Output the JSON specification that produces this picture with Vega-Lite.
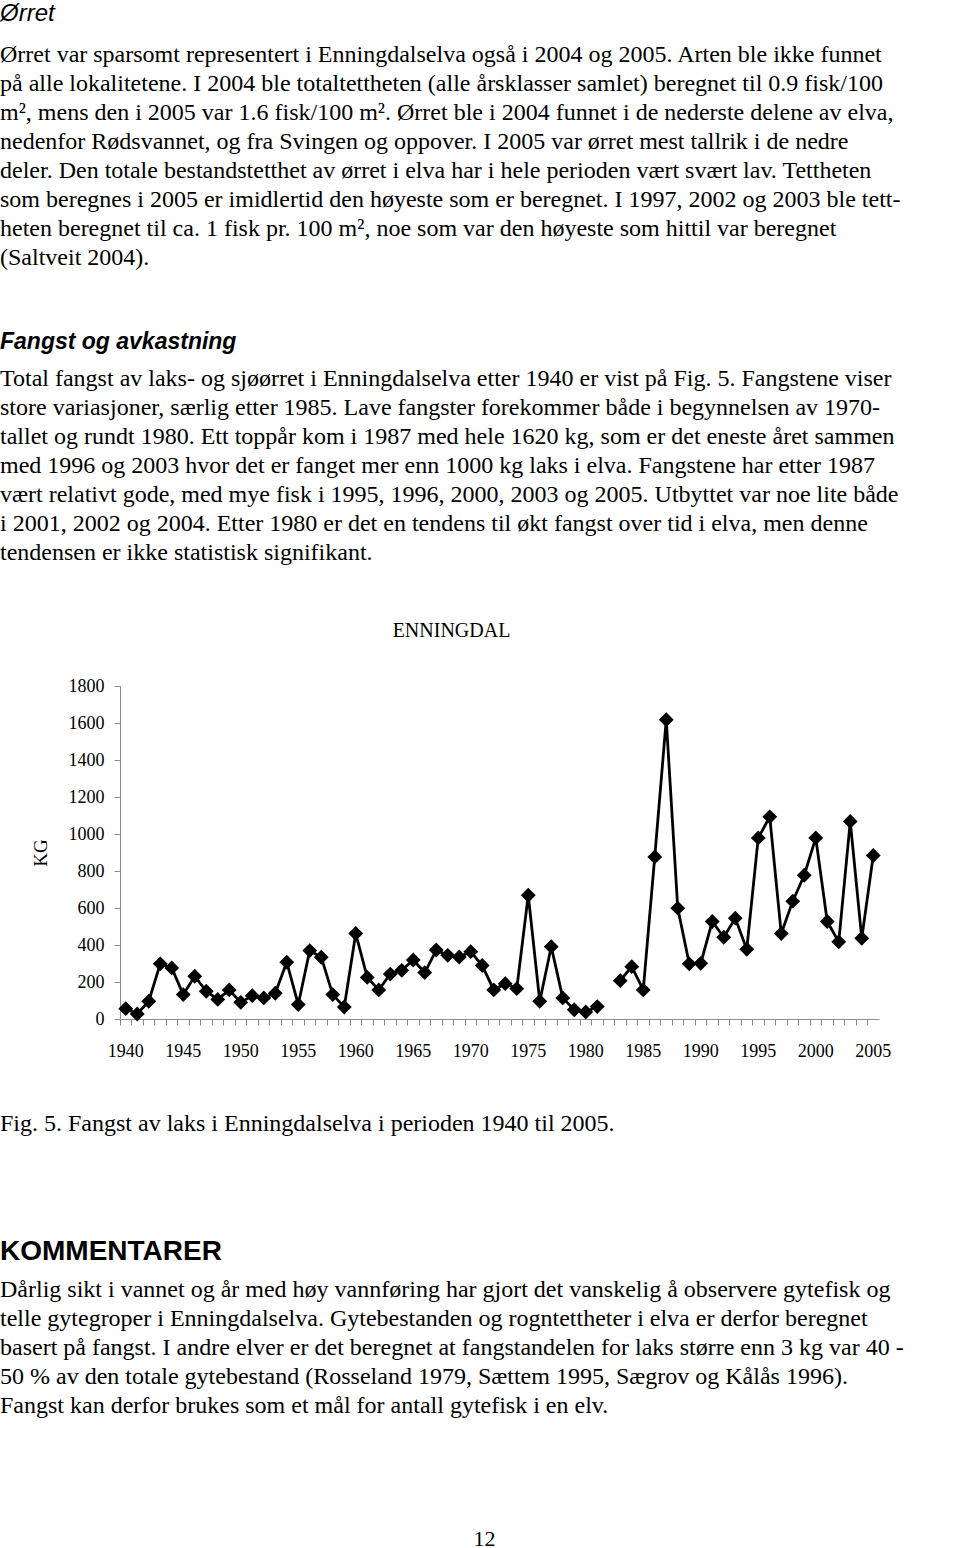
{
  "$schema": "https://vega.github.io/schema/vega-lite/v6.json",
  "padding": {"top": 2, "left": 0, "right": 0, "bottom": 0},
  "background": "white",
  "spacing": 0,
  "config": {"view": {"stroke": null}, "font": "Liberation Serif"},
  "vconcat": [
    {
      "width": 759, "height": 60,
      "data": {"values": []},
      "mark": "point",
      "title": {
        "text": "Ørret",
        "subtitle": [
          "Ørret var sparsomt representert i Enningdalselva også i 2004 og 2005. Arten ble ikke funnet",
          "på alle lokalitetene. I 2004 ble totaltettheten (alle årsklasser samlet) beregnet til 0.9 fisk/100",
          "m², mens den i 2005 var 1.6 fisk/100 m². Ørret ble i 2004 funnet i de nederste delene av elva,",
          "nedenfor Rødsvannet, og fra Svingen og oppover. I 2005 var ørret mest tallrik i de nedre",
          "deler. Den totale bestandstetthet av ørret i elva har i hele perioden vært svært lav. Tettheten",
          "som beregnes i 2005 er imidlertid den høyeste som er beregnet. I 1997, 2002 og 2003 ble tett-",
          "heten beregnet til ca. 1 fisk pr. 100 m², noe som var den høyeste som hittil var beregnet",
          "(Saltveit 2004)."
        ],
        "orient": "top", "anchor": "start", "frame": "group", "dx": -120, "offset": 0,
        "baseline": "top",
        "font": "Liberation Sans", "fontSize": 24, "fontStyle": "italic", "fontWeight": "normal", "color": "black",
        "subtitleFont": "Liberation Serif", "subtitleFontSize": 24, "subtitleLineHeight": 29,
        "subtitleColor": "black", "subtitlePadding": 17
      }
    },
    {
      "width": 759, "height": 56,
      "data": {"values": []},
      "mark": "point",
      "title": {
        "text": "Fangst og avkastning",
        "subtitle": [
          "Total fangst av laks- og sjøørret i Enningdalselva etter 1940 er vist på Fig. 5. Fangstene viser",
          "store variasjoner, særlig etter 1985. Lave fangster forekommer både i begynnelsen av 1970-",
          "tallet og rundt 1980. Ett toppår kom i 1987 med hele 1620 kg, som er det eneste året sammen",
          "med 1996 og 2003 hvor det er fanget mer enn 1000 kg laks i elva. Fangstene har etter 1987",
          "vært relativt gode, med mye fisk i 1995, 1996, 2000, 2003 og 2005. Utbyttet var noe lite både",
          "i 2001, 2002 og 2004.  Etter 1980 er det en tendens til økt fangst over tid i elva, men denne",
          "tendensen er ikke statistisk signifikant."
        ],
        "orient": "top", "anchor": "start", "frame": "group", "dx": -120, "offset": 0,
        "baseline": "top",
        "font": "Liberation Sans", "fontSize": 23, "fontStyle": "italic", "fontWeight": "bold", "color": "black",
        "subtitleFont": "Liberation Serif", "subtitleFontSize": 24, "subtitleLineHeight": 29,
        "subtitleColor": "black", "subtitlePadding": 13.5
      }
    },
    {
      "width": 759, "height": 333,
      "title": {
        "text": "ENNINGDAL", "font": "Liberation Serif", "fontSize": 20, "fontWeight": "normal",
        "color": "black", "anchor": "middle", "frame": "group", "dx": -48, "offset": 36, "baseline": "top"
      },
      "data": {"values": [
        {"year": 1940, "kg": 56}, {"year": 1941, "kg": 27}, {"year": 1942, "kg": 96}, {"year": 1943, "kg": 298},
        {"year": 1944, "kg": 276}, {"year": 1945, "kg": 132}, {"year": 1946, "kg": 231}, {"year": 1947, "kg": 150},
        {"year": 1948, "kg": 106}, {"year": 1949, "kg": 157}, {"year": 1950, "kg": 90}, {"year": 1951, "kg": 126},
        {"year": 1952, "kg": 114}, {"year": 1953, "kg": 139}, {"year": 1954, "kg": 307}, {"year": 1955, "kg": 78},
        {"year": 1956, "kg": 370}, {"year": 1957, "kg": 334}, {"year": 1958, "kg": 132}, {"year": 1959, "kg": 65},
        {"year": 1960, "kg": 462}, {"year": 1961, "kg": 225}, {"year": 1962, "kg": 157}, {"year": 1963, "kg": 243},
        {"year": 1964, "kg": 263}, {"year": 1965, "kg": 319}, {"year": 1966, "kg": 251}, {"year": 1967, "kg": 373},
        {"year": 1968, "kg": 344}, {"year": 1969, "kg": 335}, {"year": 1970, "kg": 364}, {"year": 1971, "kg": 289},
        {"year": 1972, "kg": 157}, {"year": 1973, "kg": 191}, {"year": 1974, "kg": 164}, {"year": 1975, "kg": 669},
        {"year": 1976, "kg": 96}, {"year": 1977, "kg": 391}, {"year": 1978, "kg": 114}, {"year": 1979, "kg": 50},
        {"year": 1980, "kg": 38}, {"year": 1981, "kg": 67}, {"year": 1982, "kg": null}, {"year": 1983, "kg": 207},
        {"year": 1984, "kg": 283}, {"year": 1985, "kg": 157}, {"year": 1986, "kg": 876}, {"year": 1987, "kg": 1618},
        {"year": 1988, "kg": 599}, {"year": 1989, "kg": 298}, {"year": 1990, "kg": 301}, {"year": 1991, "kg": 527},
        {"year": 1992, "kg": 442}, {"year": 1993, "kg": 545}, {"year": 1994, "kg": 377}, {"year": 1995, "kg": 979},
        {"year": 1996, "kg": 1093}, {"year": 1997, "kg": 462}, {"year": 1998, "kg": 637}, {"year": 1999, "kg": 777},
        {"year": 2000, "kg": 979}, {"year": 2001, "kg": 527}, {"year": 2002, "kg": 417}, {"year": 2003, "kg": 1068},
        {"year": 2004, "kg": 436}, {"year": 2005, "kg": 884}
      ]},
      "mark": {
        "type": "line", "color": "black", "strokeWidth": 2.8, "invalid": "break-paths-show-domains",
        "point": {"shape": "diamond", "size": 220, "filled": true, "color": "black", "opacity": 1}
      },
      "encoding": {
        "x": {
          "field": "year", "type": "ordinal",
          "scale": {"type": "band", "paddingInner": 0, "paddingOuter": 0},
          "axis": {
            "title": null, "bandPosition": 0,
            "labelExpr": "datum.value % 5 === 0 ? datum.label : ''",
            "labelAngle": 0, "labelFont": "Liberation Serif", "labelFontSize": 18, "labelColor": "black",
            "labelPadding": 17, "labelOverlap": false, "tickSize": 6, "tickColor": "#8c8c8c",
            "domainColor": "#8c8c8c", "grid": false
          }
        },
        "y": {
          "field": "kg", "type": "quantitative",
          "scale": {"domain": [0, 1800], "nice": false},
          "axis": {
            "title": "KG", "titleFont": "Liberation Serif", "titleFontSize": 19, "titleFontWeight": "normal",
            "titleColor": "black", "titlePadding": 18,
            "values": [0, 200, 400, 600, 800, 1000, 1200, 1400, 1600, 1800], "format": "d",
            "labelFont": "Liberation Serif", "labelFontSize": 18, "labelColor": "black", "labelPadding": 10,
            "tickSize": 6, "tickColor": "#8c8c8c", "domainColor": "#8c8c8c", "grid": false
          }
        }
      }
    },
    {
      "width": 759, "height": 52,
      "data": {"values": []},
      "mark": "point",
      "title": {
        "text": "Fig. 5. Fangst av laks i Enningdalselva i perioden 1940 til 2005.",
        "orient": "bottom", "anchor": "start", "frame": "group", "dx": -120, "offset": 0,
        "baseline": "top",
        "font": "Liberation Serif", "fontSize": 24, "fontWeight": "normal", "color": "black"
      }
    },
    {
      "width": 759, "height": 102,
      "data": {"values": []},
      "mark": "point",
      "title": {
        "text": "KOMMENTARER",
        "subtitle": [
          "Dårlig sikt i vannet og år med høy vannføring har gjort det vanskelig å observere gytefisk og",
          "telle gytegroper i Enningdalselva. Gytebestanden og rogntettheter i elva er derfor beregnet",
          "basert på fangst. I andre elver er det beregnet at fangstandelen for laks større enn 3 kg var 40 -",
          "50 % av den totale gytebestand (Rosseland 1979, Sættem 1995, Sægrov og Kålås 1996).",
          "Fangst kan derfor brukes som et mål for antall gytefisk i en elv."
        ],
        "orient": "bottom", "anchor": "start", "frame": "group", "dx": -120, "offset": 0,
        "baseline": "top",
        "font": "Liberation Sans", "fontSize": 28, "fontWeight": "bold", "color": "black",
        "subtitleFont": "Liberation Serif", "subtitleFontSize": 24, "subtitleLineHeight": 29,
        "subtitleColor": "black", "subtitlePadding": 12
      }
    },
    {
      "width": 759, "height": 111,
      "data": {"values": []},
      "mark": "point",
      "title": {
        "text": "12",
        "orient": "bottom", "anchor": "middle", "frame": "group", "dx": -15, "offset": 0,
        "baseline": "top",
        "font": "Liberation Serif", "fontSize": 22, "fontWeight": "normal", "color": "black"
      }
    }
  ]
}
